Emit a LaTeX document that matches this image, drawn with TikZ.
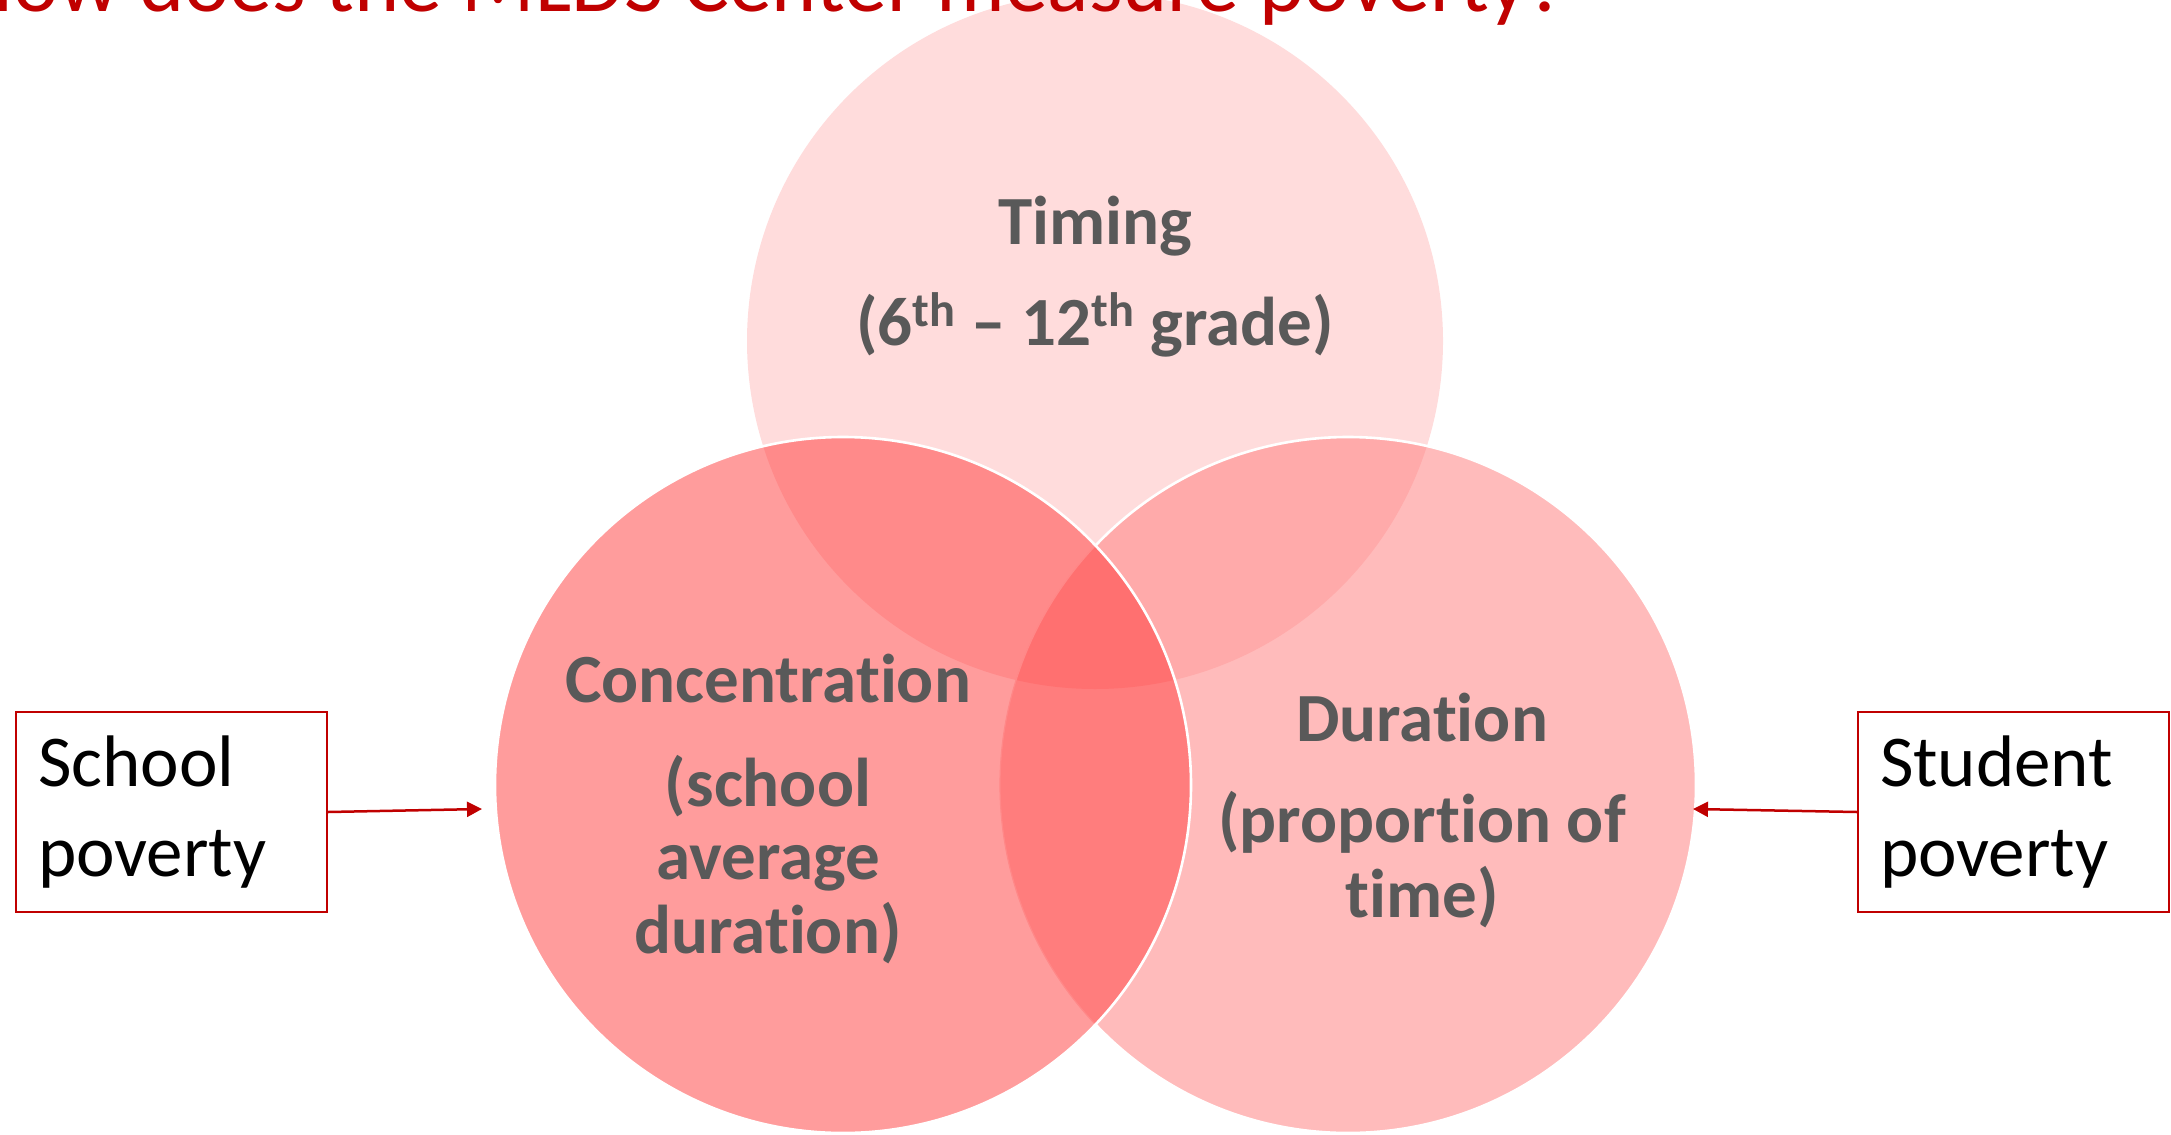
\documentclass[tikz,border=0pt]{standalone}
\usepackage{fontspec}
\setmainfont{Carlito}[Ligatures={NoCommon,NoContextual},Contextuals=NoAlternate]
\usetikzlibrary{arrows.meta}
\definecolor{darkred}{HTML}{C00000}
\definecolor{labgray}{HTML}{595959}
\definecolor{topc}{HTML}{FFDCDC}
\definecolor{leftc}{HTML}{FF9C9C}
\definecolor{rightc}{HTML}{FFBBBB}
\definecolor{tlc}{HTML}{FF8A8A}
\definecolor{trc}{HTML}{FFAAAA}
\definecolor{lrc}{HTML}{FF7D7D}
\definecolor{tlrc}{HTML}{FF7070}
\definecolor{faintc}{HTML}{FF8888}
\tikzset{
  lab/.style={inner sep=0pt, anchor=base, text=labgray, font=\fontsize{34.5}{40}\selectfont\bfseries},
  sidebox/.style={draw=darkred, line width=1pt, rectangle, align=left, text width=133.5pt,
    inner xsep=11pt, inner ysep=0pt, minimum height=100pt, font=\fontsize{36.5}{45}\selectfont, text=black},
  arr/.style={draw=darkred, line width=1.25pt, -{Triangle[length=7.5pt,width=7.5pt]}},
  rim/.style={draw=white, line width=1.3pt}
}
\begin{document}
\begin{tikzpicture}[x=0.5pt,y=-0.5pt]
\useasboundingbox (0,0) rectangle (2171,1134);
\clip (0,0) rectangle (2171,1134);
\def\rr{174pt}
\coordinate (T) at (1095,341);
\coordinate (L) at (843,785);
\coordinate (R) at (1348,785);
% top circle
\fill[topc] (T) circle[radius=\rr];
% right circle
\fill[rightc] (R) circle[radius=\rr];
\begin{scope}
  \clip (T) circle[radius=\rr];
  \fill[trc] (R) circle[radius=\rr];
\end{scope}
\draw[rim] (R) circle[radius=\rr];
% left circle
\fill[leftc] (L) circle[radius=\rr];
\begin{scope}
  \clip (L) circle[radius=\rr];
  \fill[tlc] (T) circle[radius=\rr];
  \fill[lrc] (R) circle[radius=\rr];
  \begin{scope}
    \clip (T) circle[radius=\rr];
    \fill[tlrc] (R) circle[radius=\rr];
  \end{scope}
  \draw[faintc, line width=0.6pt] (R) circle[radius=\rr];
\end{scope}
\draw[rim] (L) circle[radius=\rr];
% title
\node[anchor=base east, inner sep=0pt, text=darkred, font=\fontsize{43}{50}\selectfont] (title) at (1568,12) {How does the MLDS Center measure poverty?};
% circle labels
\node[lab] (tim1) at (1095,244) {Timing};
\node[lab] (tim2) at (1095,345) {(6\textsuperscript{th} – 12\textsuperscript{th} grade)};
\node[lab] (con1) at (768,702) {Concentrat\kern0pt ion};
\node[lab] (con2) at (768,806) {(school};
\node[lab] (con3) at (768,879) {average};
\node[lab] (con4) at (768,953) {durat\kern0pt ion)};
\node[lab] (dur1) at (1422,741) {Durat\kern0pt ion};
\node[lab] (dur2) at (1422,842) {(proport\kern0pt ion of};
\node[lab] (dur3) at (1422,917) {t\kern0pt ime)};
% side boxes
\node[sidebox] (school) at (171.5,812) {School\\poverty};
\node[sidebox] (student) at (2013.5,812) {Student\\poverty};
\coordinate (ltip) at (482,809);
\coordinate (rtip) at (1693,809);
\draw[arr] (school.east) -- (ltip);
\draw[arr] (student.west) -- (rtip);
\end{tikzpicture}
\end{document}
